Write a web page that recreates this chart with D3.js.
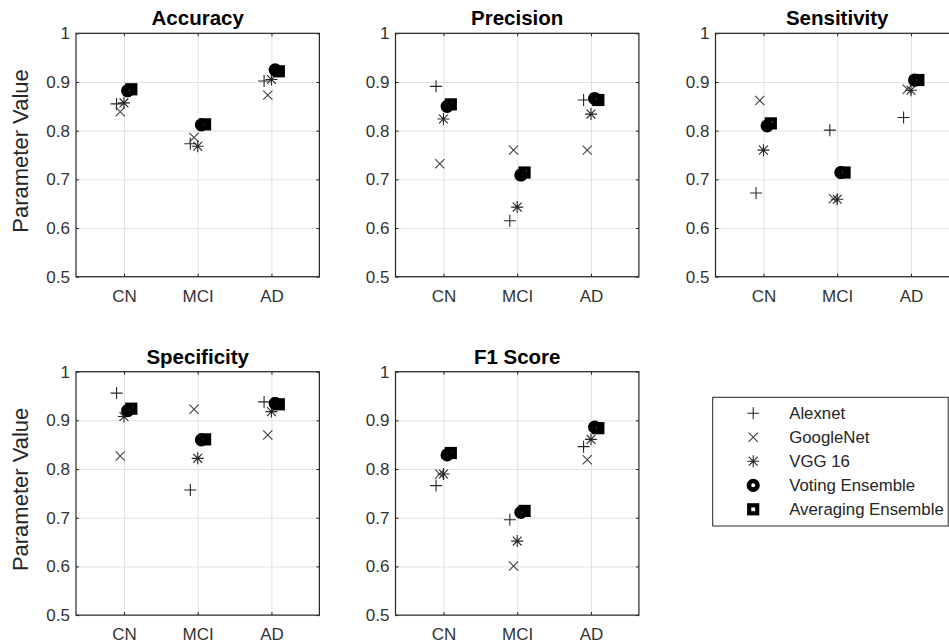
<!DOCTYPE html>
<meta charset="utf-8">
<style>
  body { margin: 0; background: #fff; }
  svg { font-family: "Liberation Sans", Arial, sans-serif; }
  .grid line { stroke: #e2e2e2; }
  .grid path { display: none; }
  .axis path { display: none; }
  .axis line { stroke: #262626; }
  .axis text { fill: #333; font-size: 17px; }
</style>
<body>
<script src="https://d3js.org/d3.v7.min.js"></script>
<script>

// categories, models and panels
var categories = ["CN", "MCI", "AD"];
var models = ["Alexnet", "GoogleNet", "VGG 16", "Voting Ensemble", "Averaging Ensemble"];
var metrics = ["Accuracy", "Precision", "Sensitivity", "Specificity", "F1 Score"];
var yTicks = [0.5, 0.6, 0.7, 0.8, 0.9, 1];
var yTickLabels = ["0.5", "0.6", "0.7", "0.8", "0.9", "1"];

// one row per model (same order as models), one value per category
var accuracy = [
  [0.855, 0.773, 0.902],
  [0.839, 0.786, 0.873],
  [0.857, 0.768, 0.905],
  [0.882, 0.812, 0.925],
  [0.885, 0.813, 0.922]
];
var precision = [
  [0.891, 0.615, 0.863],
  [0.732, 0.760, 0.760],
  [0.824, 0.643, 0.834],
  [0.850, 0.709, 0.866],
  [0.854, 0.714, 0.863]
];
var sensitivity = [
  [0.672, 0.801, 0.827],
  [0.862, 0.660, 0.885],
  [0.760, 0.659, 0.883],
  [0.810, 0.714, 0.904],
  [0.815, 0.714, 0.904]
];
var specificity = [
  [0.956, 0.757, 0.938],
  [0.827, 0.923, 0.870],
  [0.908, 0.822, 0.918],
  [0.920, 0.860, 0.935],
  [0.924, 0.861, 0.933]
];
var f1score = [
  [0.766, 0.696, 0.846],
  [0.790, 0.601, 0.819],
  [0.790, 0.652, 0.861],
  [0.829, 0.711, 0.886],
  [0.833, 0.714, 0.884]
];
var panelData = [accuracy, precision, sensitivity, specificity, f1score];

// small horizontal shift per model so markers don't sit on top of each other
var modelShift = [-0.1, -0.05, 0, 0.05, 0.1];

// layout
var size = 243.4;
var colX = [76, 395.5, 715.5];
var rowY = [33.3, 371.7];

var svg = d3.select("body").append("svg")
    .attr("width", 949)
    .attr("height", 643);

var x = d3.scaleLinear().domain([0.35, 3.65]).range([0, size]);
var y = d3.scaleLinear().domain([0.5, 1]).range([size, 0]);

// marker drawing
function drawMarker(g, m, cx, cy) {
  var s;
  if (m === 0) {
    s = 6;
    g.append("path").attr("d", "M" + (cx - s) + "," + cy + "H" + (cx + s) + "M" + cx + "," + (cy - s) + "V" + (cy + s))
      .attr("stroke", "#262626").attr("stroke-width", 1.1).attr("fill", "none");
  } else if (m === 1) {
    s = 4.6;
    g.append("path").attr("d", "M" + (cx - s) + "," + (cy - s) + "L" + (cx + s) + "," + (cy + s) +
        "M" + (cx - s) + "," + (cy + s) + "L" + (cx + s) + "," + (cy - s))
      .attr("stroke", "#404040").attr("stroke-width", 1.1).attr("fill", "none");
  } else if (m === 2) {
    s = 6; var t = 4.4;
    g.append("path").attr("d", "M" + (cx - s) + "," + cy + "H" + (cx + s) + "M" + cx + "," + (cy - s) + "V" + (cy + s) +
        "M" + (cx - t) + "," + (cy - t) + "L" + (cx + t) + "," + (cy + t) +
        "M" + (cx - t) + "," + (cy + t) + "L" + (cx + t) + "," + (cy - t))
      .attr("stroke", "#262626").attr("stroke-width", 1.1).attr("fill", "none");
  } else if (m === 3) {
    g.append("circle").attr("cx", cx).attr("cy", cy).attr("r", 4.3)
      .attr("fill", "none").attr("stroke", "#000").attr("stroke-width", 4.6);
  } else {
    g.append("rect").attr("x", cx - 4).attr("y", cy - 4).attr("width", 8).attr("height", 8)
      .attr("fill", "none").attr("stroke", "#000").attr("stroke-width", 4.2);
  }
}

metrics.forEach(function(title, p) {
  var col = p % 3, row = Math.floor(p / 3);
  var g = svg.append("g")
      .attr("transform", "translate(" + colX[col] + "," + rowY[row] + ")");

  // grid
  g.append("g").attr("class", "grid")
      .call(d3.axisLeft(y).tickValues(yTicks).tickSize(-size).tickFormat(""));
  g.append("g").attr("class", "grid")
      .attr("transform", "translate(0," + size + ")")
      .call(d3.axisBottom(x).tickValues([1, 2, 3]).tickSize(-size).tickFormat(""));

  // axes with inward ticks
  g.append("g").attr("class", "axis")
      .call(d3.axisLeft(y).tickValues(yTicks).tickSizeInner(-3).tickSizeOuter(0).tickPadding(6)
        .tickFormat(function(d, i) { return yTickLabels[i]; }));
  g.append("g").attr("class", "axis")
      .attr("transform", "translate(" + size + ",0)")
      .call(d3.axisRight(y).tickValues(yTicks).tickSizeInner(-3).tickSizeOuter(0).tickFormat(""));
  g.append("g").attr("class", "axis")
      .attr("transform", "translate(0," + size + ")")
      .call(d3.axisBottom(x).tickValues([1, 2, 3]).tickSizeInner(-3).tickSizeOuter(0).tickPadding(13)
        .tickFormat(function(d) { return categories[d - 1]; }));
  g.append("g").attr("class", "axis")
      .call(d3.axisTop(x).tickValues([1, 2, 3]).tickSizeInner(-3).tickSizeOuter(0).tickFormat(""));

  // box
  g.append("rect")
      .attr("width", size).attr("height", size)
      .attr("fill", "none").attr("stroke", "#262626").attr("stroke-width", 1.2);

  // title
  g.append("text")
      .attr("x", size / 2).attr("y", -8)
      .attr("text-anchor", "middle")
      .attr("font-size", "20.5px").attr("font-weight", "bold").attr("fill", "#000")
      .text(title);

  if (col === 0) {
    g.append("text")
        .attr("transform", "translate(" + (28 - colX[0]) + "," + (size / 2 - 4) + ") rotate(-90)")
        .attr("text-anchor", "middle")
        .attr("font-size", "22px").attr("fill", "#262626")
        .text("Parameter Value");
  }

  // markers
  var mg = g.append("g");
  panelData[p].forEach(function(vals, m) {
    vals.forEach(function(v, c) {
      drawMarker(mg, m, x(c + 1 + modelShift[m]), y(v));
    });
  });
});

// legend
var lg = svg.append("g").attr("transform", "translate(712.7,397.3)");
lg.append("rect")
    .attr("width", 235.5).attr("height", 128.7)
    .attr("fill", "#fff").attr("stroke", "#262626").attr("stroke-width", 1);
models.forEach(function(name, m) {
  var ly = 16 + m * 24;
  drawMarker(lg, m, 40.5, ly);
  lg.append("text")
      .attr("x", 76.5).attr("y", ly)
      .attr("dy", "0.35em")
      .attr("font-size", "16.8px").attr("fill", "#262626")
      .text(name);
});

</script>
</body>
